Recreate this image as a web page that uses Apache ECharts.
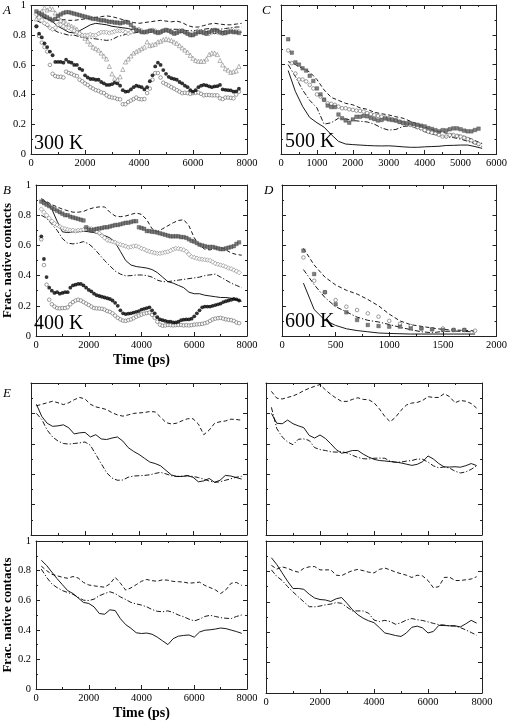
<!DOCTYPE html>
<html><head><meta charset="utf-8">
<script src="https://cdn.jsdelivr.net/npm/echarts@6/dist/echarts.min.js"></script>
<style>html,body{margin:0;padding:0;background:#fff}#c{width:510px;height:721px}</style>
</head><body><div id="c"></div>
<script>
// ---------- DATA ----------
// Panel A (300 K): markers every 100 ps from 200, lines every 200 ps from 200
const A_squares = [0.96,0.95,0.94,0.93,0.92,0.91,0.9,0.91,0.93,0.94,
0.95,0.955,0.955,0.95,0.945,0.94,0.935,0.93,0.925,0.92,
0.915,0.91,0.91,0.905,0.9,0.9,0.895,0.89,0.89,0.885,
0.885,0.88,0.885,0.89,0.885,0.87,0.85,0.835,0.83,0.82,
0.82,0.825,0.83,0.83,0.82,0.815,0.82,0.83,0.835,0.83,
0.82,0.81,0.815,0.825,0.83,0.82,0.81,0.8,0.8,0.81,
0.82,0.82,0.815,0.81,0.82,0.83,0.835,0.83,0.82,0.815,
0.815,0.82,0.825,0.82,0.82,0.815];
const A_diamonds = [0.94,0.92,0.9,0.88,0.87,0.85,0.84,0.85,0.87,0.87,
0.86,0.85,0.85,0.84,0.83,0.82,0.81,0.8,0.8,0.8,
0.805,0.8,0.8,0.81,0.82,0.82,0.82,0.815,0.82,0.825,
0.83,0.83,0.83,0.82,0.81,0.82,0.83,0.835,0.84,0.83,
0.82,0.82,0.83,0.835,0.83,0.82,0.82,0.83,0.835,0.83,
0.82,0.815,0.82,0.83,0.83,0.82,0.81,0.805,0.81,0.82,
0.83,0.825,0.82,0.81,0.81,0.82,0.825,0.82,0.815,0.81,
0.815,0.83,0.835,0.83,0.83,0.825];
const A_triangles = [0.91,0.93,0.96,0.985,0.97,0.98,0.975,0.95,0.92,0.9,
0.89,0.88,0.87,0.86,0.85,0.84,0.82,0.8,0.78,0.76,
0.74,0.72,0.71,0.7,0.68,0.66,0.64,0.59,0.54,0.51,
0.5,0.52,0.57,0.62,0.64,0.66,0.68,0.69,0.7,0.71,
0.72,0.755,0.73,0.735,0.74,0.755,0.76,0.77,0.775,0.77,
0.765,0.755,0.745,0.73,0.715,0.7,0.685,0.665,0.645,0.63,
0.625,0.625,0.625,0.64,0.67,0.68,0.68,0.67,0.63,0.6,
0.575,0.565,0.55,0.555,0.56,0.59];
const A_filled = [0.86,0.81,0.785,0.745,0.72,0.69,0.665,0.62,0.62,0.62,
0.615,0.635,0.62,0.615,0.6,0.6,0.575,0.565,0.53,0.515,
0.505,0.505,0.5,0.5,0.485,0.475,0.465,0.465,0.47,0.48,
0.475,0.46,0.43,0.42,0.422,0.435,0.45,0.46,0.455,0.45,
0.435,0.45,0.49,0.53,0.59,0.615,0.6,0.565,0.54,0.52,
0.51,0.505,0.5,0.485,0.475,0.46,0.45,0.43,0.42,0.43,
0.45,0.46,0.465,0.462,0.455,0.45,0.455,0.457,0.465,0.435,
0.432,0.43,0.428,0.42,0.422,0.44];
const A_open = [0.86,0.795,0.75,0.72,0.69,0.6,0.54,0.525,0.52,0.52,
0.515,0.555,0.545,0.54,0.53,0.525,0.5,0.49,0.475,0.465,
0.45,0.44,0.43,0.425,0.415,0.41,0.395,0.385,0.38,0.378,
0.37,0.368,0.335,0.335,0.35,0.36,0.37,0.38,0.37,0.368,
0.37,0.41,0.44,0.5,0.545,0.545,0.515,0.48,0.47,0.46,
0.45,0.44,0.43,0.42,0.41,0.412,0.41,0.405,0.41,0.412,
0.414,0.405,0.395,0.397,0.397,0.395,0.395,0.395,0.375,0.37,
0.38,0.38,0.378,0.375,0.4,0.42];
const A_solid = [0.95,0.93,0.91,0.89,0.86,0.84,0.82,0.815,0.83,0.85,
0.87,0.88,0.875,0.87,0.86,0.855,0.85,0.845,0.835,0.83,
0.82,0.82,0.83,0.82,0.83,0.82,0.82,0.82,0.81,0.81,
0.82,0.83,0.82,0.81,0.82,0.83,0.83,0.82,0.82];
const A_dashed = [0.93,0.92,0.91,0.9,0.9,0.905,0.9,0.9,0.905,0.91,
0.915,0.92,0.925,0.93,0.925,0.915,0.905,0.895,0.885,0.88,
0.885,0.89,0.895,0.9,0.895,0.89,0.895,0.885,0.865,0.855,
0.855,0.865,0.875,0.88,0.875,0.87,0.87,0.875,0.88];
const A_dashdot = [0.9,0.88,0.86,0.84,0.82,0.81,0.8,0.8,0.79,0.78,
0.78,0.775,0.77,0.765,0.77,0.79,0.8,0.81,0.815,0.82,
0.82,0.825,0.83,0.835,0.84,0.84,0.84,0.835,0.83,0.83,
0.835,0.84,0.845,0.84,0.84,0.845,0.85,0.855,0.855];

// Panel B (400 K)
const B_squares = [0.89,0.88,0.87,0.86,0.85,0.84,0.83,0.82,0.81,0.8,
0.8,0.79,0.785,0.78,0.775,0.77,0.765,0.72,0.705,0.7,
0.705,0.71,0.712,0.715,0.72,0.72,0.725,0.73,0.735,0.735,
0.74,0.745,0.75,0.75,0.755,0.76,0.76,0.72,0.715,0.71,
0.695,0.695,0.69,0.69,0.685,0.68,0.675,0.67,0.665,0.66,
0.66,0.66,0.66,0.655,0.655,0.65,0.64,0.63,0.625,0.615,
0.605,0.6,0.595,0.59,0.59,0.59,0.585,0.58,0.575,0.575,
0.58,0.585,0.59,0.595,0.61,0.62];
const B_diamonds = [0.84,0.82,0.8,0.78,0.76,0.745,0.735,0.725,0.715,0.71,
0.705,0.7,0.7,0.695,0.7,0.7,0.705,0.71,0.713,0.71,
0.7,0.69,0.68,0.665,0.65,0.635,0.63,0.625,0.62,0.61,
0.605,0.6,0.595,0.588,0.59,0.595,0.596,0.59,0.58,0.575,
0.565,0.56,0.555,0.55,0.547,0.547,0.55,0.555,0.558,0.565,
0.575,0.58,0.578,0.575,0.57,0.56,0.54,0.525,0.52,0.515,
0.51,0.508,0.505,0.503,0.5,0.49,0.48,0.475,0.47,0.465,
0.458,0.45,0.445,0.437,0.43,0.42];
const B_filled = [0.66,0.51,0.39,0.32,0.3,0.285,0.29,0.28,0.285,0.29,
0.29,0.32,0.335,0.34,0.345,0.345,0.335,0.32,0.305,0.295,
0.28,0.27,0.265,0.26,0.255,0.25,0.245,0.235,0.22,0.2,
0.17,0.15,0.145,0.148,0.15,0.155,0.16,0.165,0.175,0.18,
0.185,0.19,0.17,0.15,0.125,0.11,0.105,0.1,0.095,0.095,
0.09,0.09,0.095,0.105,0.108,0.11,0.11,0.115,0.13,0.15,
0.17,0.19,0.195,0.195,0.195,0.2,0.205,0.21,0.215,0.225,
0.23,0.235,0.24,0.245,0.243,0.235];
const B_open = [0.64,0.47,0.34,0.24,0.21,0.195,0.185,0.183,0.185,0.185,
0.19,0.21,0.225,0.235,0.24,0.235,0.225,0.215,0.205,0.195,
0.185,0.183,0.182,0.18,0.175,0.165,0.16,0.15,0.135,0.12,
0.11,0.102,0.1,0.105,0.11,0.118,0.128,0.135,0.142,0.148,
0.152,0.155,0.14,0.12,0.095,0.075,0.068,0.07,0.073,0.072,
0.07,0.072,0.073,0.073,0.07,0.072,0.07,0.072,0.075,0.077,
0.078,0.08,0.085,0.09,0.1,0.11,0.115,0.118,0.12,0.115,
0.11,0.108,0.105,0.1,0.09,0.085];
const B_dashed = [0.91,0.89,0.87,0.855,0.84,0.83,0.82,0.82,0.825,0.84,
0.85,0.855,0.855,0.82,0.795,0.79,0.795,0.805,0.815,0.805,
0.77,0.71,0.69,0.71,0.73,0.75,0.765,0.77,0.73,0.65,
0.6,0.575,0.57,0.58,0.585,0.57,0.55,0.54,0.535];
const B_solid = [0.9,0.885,0.84,0.76,0.69,0.685,0.69,0.69,0.695,0.69,
0.685,0.675,0.665,0.65,0.62,0.56,0.5,0.47,0.46,0.455,
0.45,0.44,0.42,0.39,0.36,0.35,0.335,0.32,0.29,0.28,
0.28,0.27,0.265,0.26,0.255,0.255,0.25,0.24,0.23];
const B_dashdot = [0.8,0.78,0.74,0.7,0.645,0.615,0.61,0.615,0.625,0.61,
0.58,0.54,0.5,0.465,0.43,0.41,0.398,0.4,0.404,0.404,
0.4,0.39,0.37,0.36,0.36,0.365,0.37,0.375,0.38,0.385,
0.39,0.4,0.405,0.41,0.39,0.37,0.35,0.335,0.32];

// Panel C (500 K): markers every 100 ps from 200, lines every 200 ps from 200
const C_squares = [0.77,0.68,0.615,0.6,0.575,0.56,0.525,0.49,0.44,0.4,
0.365,0.325,0.315,0.315,0.265,0.24,0.225,0.21,0.232,0.25,
0.25,0.256,0.253,0.242,0.234,0.225,0.228,0.238,0.232,0.228,
0.225,0.215,0.21,0.206,0.206,0.2,0.196,0.19,0.185,0.175,
0.168,0.16,0.152,0.16,0.158,0.166,0.172,0.172,0.166,0.157,
0.152,0.152,0.161,0.17];
const C_open = [0.695,0.61,0.54,0.5,0.5,0.487,0.464,0.44,0.4,0.386,
0.363,0.34,0.337,0.33,0.318,0.307,0.307,0.3,0.296,0.291,
0.289,0.285,0.274,0.268,0.262,0.256,0.25,0.245,0.24,0.233,
0.224,0.217,0.206,0.2,0.195,0.188,0.18,0.173,0.16,0.15,
0.143,0.138,0.128,0.117,0.117,0.128,0.128,0.122,0.117,0.11,
0.1,0.092,0.076,0.067];
const C_solid = [0.56,0.42,0.32,0.245,0.21,0.18,0.13,0.085,0.067,0.063,0.06,0.057,0.055,0.054,0.055,0.052,0.048,0.045,0.045,0.048,0.05,0.052,0.057,0.058,0.06,0.06,0.05,0.038];
const C_dashed = [0.62,0.6,0.575,0.55,0.5,0.43,0.38,0.36,0.34,0.33,0.31,0.3,0.28,0.27,0.262,0.25,0.24,0.22,0.2,0.18,0.165,0.15,0.14,0.13,0.125,0.11,0.09,0.07];
const C_dashdot = [0.6,0.52,0.43,0.36,0.31,0.2,0.21,0.24,0.235,0.225,0.22,0.215,0.2,0.175,0.16,0.165,0.185,0.19,0.17,0.15,0.135,0.125,0.115,0.11,0.1,0.085,0.07,0.05];

// Panel D (600 K): every 100 ps from 200
const D_squares = [0.565,0.41,0.29,0.21,0.157,0.106,0.073,0.066,0.062,0.062,0.05,0.05,0.044,0.04,0.04,0.04];
const D_open = [0.52,0.366,0.29,0.238,0.194,0.172,0.15,0.128,0.1,0.08,0.066,0.05,0.045,0.05,0.04,0.04,0.035];
const D_dashed = [0.58,0.47,0.39,0.338,0.303,0.278,0.242,0.2,0.145,0.1,0.075,0.064,0.053,0.043,0.04,0.037,0.034];
const D_dashdot = [0.44,0.34,0.255,0.194,0.16,0.125,0.104,0.093,0.076,0.058,0.042,0.028,0.022,0.03,0.033,0.03,0.027];
const D_solid = [0.35,0.175,0.105,0.07,0.048,0.036,0.028,0.02,0.017,0.015,0.013,0.013,0.013,0.013,0.013,0.013,0.013];

// Panel E (four sub-panels): every 200 ps from 200
const E1_solid = [0.86,0.78,0.735,0.715,0.718,0.725,0.705,0.665,0.672,0.675,0.645,0.66,0.632,0.628,0.638,0.645,0.618,0.575,0.55,0.53,0.505,0.48,0.47,0.455,0.425,0.395,0.385,0.385,0.39,0.38,0.35,0.356,0.372,0.347,0.36,0.392,0.388,0.378,0.368];
const E1_dashed = [0.85,0.86,0.87,0.88,0.87,0.858,0.87,0.89,0.905,0.895,0.86,0.843,0.835,0.825,0.805,0.79,0.782,0.79,0.8,0.803,0.806,0.812,0.81,0.775,0.74,0.73,0.736,0.752,0.765,0.765,0.73,0.66,0.69,0.735,0.745,0.75,0.762,0.76,0.755];
const E1_dashdot = [0.8,0.76,0.69,0.645,0.618,0.602,0.598,0.602,0.606,0.612,0.59,0.53,0.47,0.41,0.375,0.36,0.362,0.38,0.388,0.39,0.392,0.396,0.405,0.412,0.402,0.39,0.385,0.388,0.39,0.385,0.378,0.368,0.355,0.346,0.35,0.36,0.37,0.38,0.386];
const E2_solid = [0.8,0.735,0.732,0.756,0.732,0.718,0.706,0.655,0.638,0.658,0.635,0.6,0.562,0.538,0.545,0.556,0.556,0.532,0.513,0.498,0.49,0.487,0.483,0.48,0.474,0.466,0.458,0.465,0.482,0.52,0.5,0.47,0.448,0.447,0.449,0.446,0.456,0.47,0.457];
const E2_dashed = [0.945,0.9,0.895,0.905,0.915,0.93,0.95,0.965,0.978,0.99,0.955,0.925,0.9,0.879,0.879,0.892,0.903,0.892,0.89,0.87,0.83,0.78,0.745,0.775,0.82,0.855,0.868,0.872,0.885,0.91,0.905,0.905,0.93,0.91,0.87,0.885,0.88,0.865,0.835];
const E2_dashdot = [0.84,0.7,0.645,0.612,0.594,0.63,0.632,0.622,0.575,0.562,0.556,0.548,0.545,0.548,0.54,0.525,0.51,0.502,0.5,0.505,0.506,0.505,0.485,0.478,0.48,0.486,0.49,0.5,0.498,0.48,0.455,0.442,0.448,0.44,0.42,0.408,0.415,0.432,0.455];
const E3_solid = [0.87,0.835,0.79,0.745,0.705,0.665,0.645,0.615,0.585,0.578,0.555,0.51,0.505,0.535,0.53,0.475,0.435,0.41,0.38,0.375,0.378,0.37,0.35,0.325,0.3,0.34,0.357,0.362,0.365,0.35,0.385,0.397,0.4,0.405,0.412,0.408,0.398,0.388,0.376];
const E3_dashed = [0.83,0.8,0.775,0.765,0.755,0.748,0.76,0.75,0.72,0.703,0.697,0.692,0.688,0.71,0.755,0.715,0.668,0.683,0.705,0.728,0.74,0.732,0.728,0.738,0.735,0.727,0.725,0.722,0.715,0.718,0.722,0.7,0.685,0.67,0.645,0.67,0.715,0.72,0.7];
const E3_dashdot = [0.81,0.755,0.71,0.685,0.665,0.652,0.64,0.62,0.6,0.598,0.607,0.63,0.645,0.657,0.645,0.622,0.605,0.585,0.575,0.567,0.555,0.537,0.525,0.522,0.528,0.517,0.5,0.488,0.472,0.46,0.472,0.49,0.498,0.49,0.482,0.478,0.476,0.49,0.5];
const E4_solid = [0.89,0.845,0.79,0.735,0.687,0.688,0.682,0.65,0.625,0.615,0.612,0.602,0.62,0.628,0.59,0.548,0.515,0.492,0.475,0.463,0.43,0.395,0.387,0.378,0.372,0.395,0.432,0.44,0.428,0.395,0.405,0.445,0.444,0.442,0.442,0.435,0.455,0.478,0.46];
const E4_dashed = [0.84,0.815,0.83,0.82,0.805,0.795,0.82,0.83,0.832,0.81,0.81,0.81,0.775,0.772,0.79,0.805,0.813,0.805,0.795,0.79,0.813,0.822,0.81,0.795,0.785,0.775,0.76,0.775,0.77,0.74,0.692,0.7,0.76,0.762,0.74,0.74,0.745,0.75,0.765];
const E4_dashdot = [0.81,0.767,0.74,0.7,0.665,0.632,0.6,0.568,0.567,0.572,0.58,0.585,0.595,0.59,0.565,0.54,0.54,0.54,0.525,0.48,0.47,0.478,0.47,0.452,0.462,0.48,0.49,0.482,0.477,0.468,0.458,0.45,0.447,0.442,0.44,0.43,0.415,0.398,0.38];

const TEMPS = ['300 K','400 K','500 K','600 K'];
const LETTERS = ['A','B','C','D','E'];
const YNAME = 'Frac. native contacts';
const XNAME = 'Time (ps)';

// ---------- BUILD ----------
const FONT = '"Times New Roman", "Liberation Serif", Times, serif';
function pts(arr, t0, dt){ return arr.map((v,i)=>[t0+i*dt, v]); }

const panels = [
 {left:31, top:5,   w:216, h:149, xmax:8000, xint:2000, xlab:true, ylab:true},   // A
 {left:281,top:5,   w:224, h:149, xmax:6000, xint:1000, xlab:true, ylab:false},  // C
 {left:31, top:185, w:216, h:151, xmax:8000, xint:2000, xlab:true, ylab:true, names:true}, // B
 {left:282,top:185, w:217, h:151, xmax:2000, xint:500,  xlab:true, ylab:false},  // D
 {left:31, top:383, w:216, h:152, xmax:8000, xint:2000, xlab:false, ylab:false}, // E1
 {left:266,top:383, w:216, h:152, xmax:8000, xint:2000, xlab:false, ylab:false}, // E2
 {left:31, top:541, w:216, h:152, xmax:8000, xint:2000, xlab:true, ylab:true, names:true}, // E3
 {left:266,top:541, w:216, h:152, xmax:8000, xint:2000, xlab:true, ylab:false}   // E4
];

const grid=[], xAxis=[], yAxis=[], series=[];
const axisLine = {show:true, onZero:false, lineStyle:{color:'#222', width:1}};
const tick = {show:true, inside:true, length:4, lineStyle:{color:'#222', width:1}};
const minor = {show:true, splitNumber:2, length:2, lineStyle:{color:'#222', width:1}};
const lab = {color:'#000', fontFamily:FONT, fontSize:10.5, formatter:(v)=>String(v)};
panels.forEach((p,i)=>{
  grid.push({left:p.left, top:p.top, width:p.w, height:p.h});
  xAxis.push({type:'value', gridIndex:i, min:0, max:p.xmax, interval:p.xint, position:'bottom',
    axisLine, axisTick:tick, minorTick:minor, splitLine:{show:false},
    axisLabel:Object.assign({show:p.xlab, margin:4}, lab),
    name:p.names?XNAME:'', nameLocation:'middle', nameGap:17,
    nameTextStyle:{fontFamily:FONT, fontWeight:'bold', fontSize:14, color:'#000'}});
  xAxis.push({type:'value', gridIndex:i, min:0, max:p.xmax, interval:p.xint, position:'top',
    axisLine, axisTick:tick, minorTick:minor, splitLine:{show:false}, axisLabel:{show:false}});
  yAxis.push({type:'value', gridIndex:i, min:0, max:1, interval:0.2, position:'left',
    axisLine, axisTick:tick, minorTick:minor, splitLine:{show:false},
    axisLabel:Object.assign({show:p.ylab, margin:5}, lab),
    name:p.names?YNAME:'', nameLocation:'middle', nameGap:19,
    nameTextStyle:{fontFamily:FONT, fontWeight:'bold', fontSize:13, color:'#000'}});
  yAxis.push({type:'value', gridIndex:i, min:0, max:1, interval:0.2, position:'right',
    axisLine, axisTick:tick, minorTick:minor, splitLine:{show:false}, axisLabel:{show:false}});
});

function line(g, arr, t0, dt, kind){
  const type = kind==='solid' ? 'solid' : (kind==='dashed' ? [4,2.5] : [5,2,1.2,2]);
  series.push({type:'line', xAxisIndex:2*g, yAxisIndex:2*g, data:pts(arr,t0,dt),
    symbol:'none', silent:true, animation:false, z:2,
    lineStyle:{color:'#000', width:0.9, type}});
}
const MK = {
  square:   {symbol:'rect', symbolSize:3.6, itemStyle:{color:'#5e5e5e', borderColor:'#333', borderWidth:0.4}},
  diamond:  {symbol:'diamond', symbolSize:4.5, itemStyle:{color:'#fff', borderColor:'#777', borderWidth:0.7}},
  triangle: {symbol:'triangle', symbolSize:4.2, itemStyle:{color:'#fff', borderColor:'#666', borderWidth:0.6}},
  filled:   {symbol:'circle', symbolSize:3.8, itemStyle:{color:'#000', borderColor:'#000', borderWidth:0}},
  open:     {symbol:'circle', symbolSize:3.6, itemStyle:{color:'#fff', borderColor:'#555', borderWidth:0.7}}
};
function mark(g, arr, t0, dt, kind){
  series.push(Object.assign({type:'scatter', xAxisIndex:2*g, yAxisIndex:2*g, data:pts(arr,t0,dt),
    silent:true, animation:false, z:3}, MK[kind]));
}

// A
line(0, A_solid,200,200,'solid'); line(0, A_dashed,200,200,'dashed'); line(0, A_dashdot,200,200,'dashdot');
mark(0, A_open,200,100,'open'); mark(0, A_filled,200,100,'filled'); mark(0, A_triangles,200,100,'triangle');
mark(0, A_diamonds,200,100,'diamond'); mark(0, A_squares,200,100,'square');
// C
line(1, C_solid,200,200,'solid'); line(1, C_dashed,200,200,'dashed'); line(1, C_dashdot,200,200,'dashdot');
mark(1, C_open,200,100,'open'); mark(1, C_squares,200,100,'square');
// B
line(2, B_solid,200,200,'solid'); line(2, B_dashed,200,200,'dashed'); line(2, B_dashdot,200,200,'dashdot');
mark(2, B_open,200,100,'open'); mark(2, B_filled,200,100,'filled');
mark(2, B_diamonds,200,100,'diamond'); mark(2, B_squares,200,100,'square');
// D
line(3, D_solid,200,100,'solid'); line(3, D_dashed,200,100,'dashed'); line(3, D_dashdot,200,100,'dashdot');
mark(3, D_open,200,100,'open'); mark(3, D_squares,200,100,'square');
// E
[[E1_solid,E1_dashed,E1_dashdot],[E2_solid,E2_dashed,E2_dashdot],[E3_solid,E3_dashed,E3_dashdot],[E4_solid,E4_dashed,E4_dashdot]]
 .forEach((s,k)=>{ line(4+k,s[0],200,200,'solid'); line(4+k,s[1],200,200,'dashed'); line(4+k,s[2],200,200,'dashdot'); });

function txt(x,y,t,size,italic){ return {type:'text', x, y, z:10,
  style:{text:t, fontFamily:FONT, fontSize:size, fontStyle:italic?'italic':'normal', fill:'#000', verticalAlign:'top'}}; }
const graphic = [
  txt(3,4,LETTERS[0],13,true), txt(3,184,LETTERS[1],13,true),
  txt(262,4,LETTERS[2],13,true), txt(264,184,LETTERS[3],13,true),
  txt(3,387,LETTERS[4],13,true),
  txt(34,134,TEMPS[0],20), txt(34,314,TEMPS[1],20),
  txt(285,132,TEMPS[2],20), txt(285,312,TEMPS[3],20)
];

const chart = echarts.init(document.getElementById('c'), null, {renderer:'canvas'});
chart.setOption({animation:false, backgroundColor:'#fff', textStyle:{fontFamily:FONT},
  grid, xAxis, yAxis, series, graphic});
</script>
</body></html>
